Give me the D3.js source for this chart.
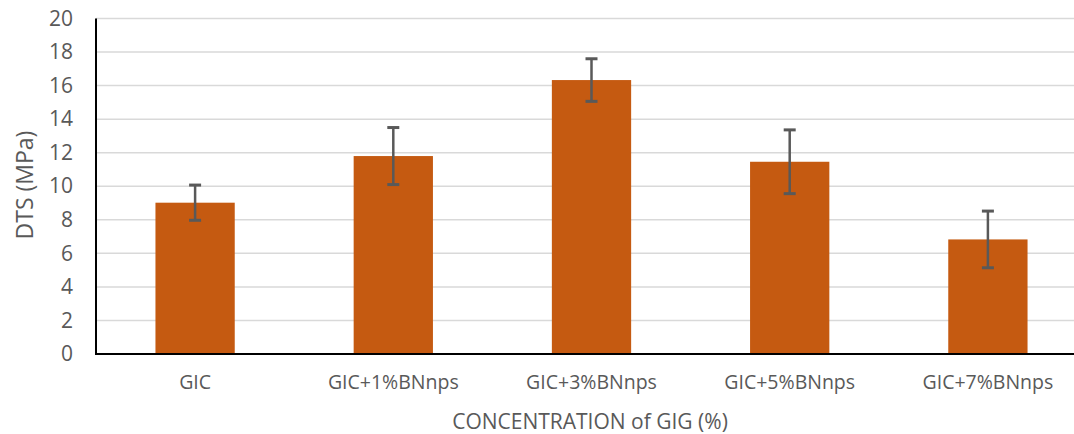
<!DOCTYPE html>
<html><head><meta charset="utf-8">
<script src="https://cdn.jsdelivr.net/npm/d3@7"></script>
<style>html,body{margin:0;padding:0;background:#fff;overflow:hidden}</style>
</head><body>
<svg id="c" width="1074" height="434"></svg>
<script>
const categories = ["GIC","GIC+1%BNnps","GIC+3%BNnps","GIC+5%BNnps","GIC+7%BNnps"];
const values = [9.02, 11.8, 16.33, 11.46, 6.83];
const errors = [1.05, 1.7, 1.27, 1.9, 1.69];
const yTicks = [0,2,4,6,8,10,12,14,16,18,20];

(function(){
const svg = d3.select("#c");
const mL = 96, mR = 1087, mT = 18.5, mB = 354;
const font = "'Open Sans', 'Noto Sans', sans-serif";
const x = d3.scaleBand().domain(categories).range([mL, mR]).paddingInner(0.6).paddingOuter(0.3);
const y = d3.scaleLinear().domain([0,20]).range([mB, mT]);

svg.append("g").selectAll("line").data(yTicks.filter(d=>d>0)).join("line")
  .attr("x1", mL).attr("x2", mR)
  .attr("y1", d=>y(d)).attr("y2", d=>y(d))
  .attr("stroke", "#d9d9d9").attr("stroke-width", 1.5);

svg.append("g").selectAll("rect").data(values).join("rect")
  .attr("x", (d,i)=>x(categories[i])).attr("width", x.bandwidth())
  .attr("y", d=>y(d)).attr("height", d=>mB - y(d))
  .attr("fill", "#C55A11");

const eg = svg.append("g").attr("stroke", "#595959").attr("stroke-width", 2.5);
values.forEach((v,i)=>{
  const cx = x(categories[i]) + x.bandwidth()/2;
  eg.append("line").attr("x1",cx).attr("x2",cx).attr("y1",y(v+errors[i])).attr("y2",y(v-errors[i]));
  eg.append("line").attr("x1",cx-6).attr("x2",cx+6).attr("y1",y(v+errors[i])).attr("y2",y(v+errors[i])).attr("stroke-width",3);
  eg.append("line").attr("x1",cx-6).attr("x2",cx+6).attr("y1",y(v-errors[i])).attr("y2",y(v-errors[i])).attr("stroke-width",3);
});

svg.append("line").attr("x1",mL).attr("x2",mL).attr("y1",mT).attr("y2",mB+1)
  .attr("stroke","#000").attr("stroke-width",2);
svg.append("line").attr("x1",mL-1).attr("x2",mR).attr("y1",mB).attr("y2",mB)
  .attr("stroke","#000").attr("stroke-width",2);

const yAxis = d3.axisLeft(y).tickValues(yTicks).tickSize(0).tickPadding(0);
const ya = svg.append("g").attr("transform",`translate(${mL-23},0)`).call(yAxis);
ya.select(".domain").remove();
ya.selectAll("text").attr("font-family",font).attr("font-size",21).attr("fill","#595959");

const xAxis = d3.axisBottom(x).tickSize(0).tickPadding(0);
const xa = svg.append("g").attr("transform",`translate(0,${mB+21})`).call(xAxis);
xa.select(".domain").remove();
xa.selectAll("text").attr("font-family",font).attr("font-size",19.5).attr("fill","#595959");

svg.append("text").attr("x",590).attr("y",429).attr("text-anchor","middle")
  .attr("font-family",font).attr("font-size",21).attr("fill","#595959")
  .text("CONCENTRATION of GIG (%)");
svg.append("text").attr("transform","translate(33,185) rotate(-90)").attr("text-anchor","middle")
  .attr("font-family",font).attr("font-size",23).attr("fill","#595959")
  .text("DTS (MPa)");
})();
</script>
</body></html>
